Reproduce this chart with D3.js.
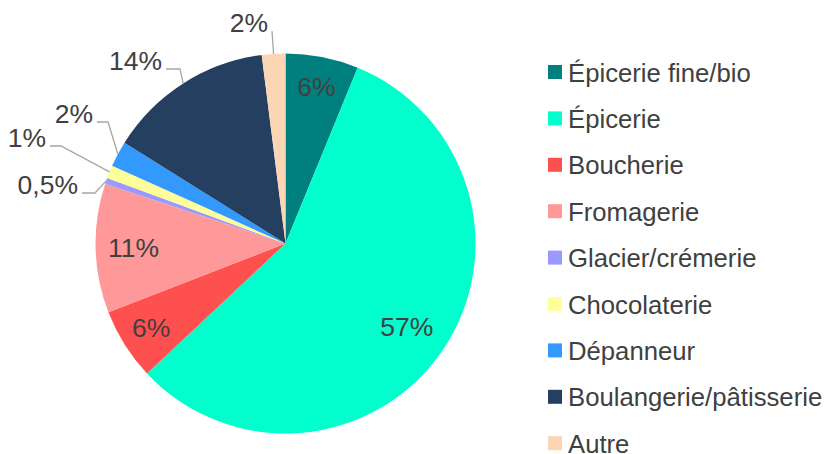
<!DOCTYPE html>
<html>
<head>
<meta charset="utf-8">
<script src="https://cdn.jsdelivr.net/npm/d3@7"></script>
<style>
  html, body { margin: 0; padding: 0; background: #fff; }
  svg { display: block; font-family: "Liberation Sans", Arial, sans-serif; }
</style>
</head>
<body>
<svg id="chart" width="827" height="454"></svg>
<script>
// ---- Data ----
const categories = ["Épicerie fine/bio", "Épicerie", "Boucherie", "Fromagerie", "Glacier/crémerie", "Chocolaterie", "Dépanneur", "Boulangerie/pâtisserie", "Autre"];
const values = [6.2, 56.8, 6.1, 11.0, 0.5, 1.1, 2.2, 14.1, 2.0];
const labels = ["6%", "57%", "6%", "11%", "0,5%", "1%", "2%", "14%", "2%"];

// ---- Styles / layout ----
const colors = ["#007F7F", "#00FFCC", "#FF5050", "#FF9999", "#9999FF", "#FFFF99", "#3399FF", "#243F60", "#FCD5B5"];
const cx = 285.5, cy = 243.5, R = 190;
// inside label radius factors (by slice index)
const insideLayout = { 0: 0.84, 1: 0.775, 2: 0.835, 3: 0.80 };
// outside label elbows relative to pie centre: [elbowDx, elbowDy, horizontal length]
const outsideLayout = {
  4: [-190.5, -50.5, 13],
  5: [-224.5, -97.5, 11],
  6: [-177.5, -121.5, 11],
  7: [-105.5, -174.5, 14],
  8: [-13.5, -212.5, 0]
};

const svg = d3.select("#chart");
const g = svg.append("g").attr("transform", `translate(${cx},${cy})`);

const pie = d3.pie().sort(null).value(d => d.v);
const arcs = pie(categories.map((c, i) => ({ c, v: values[i], i })));
const arc = d3.arc().innerRadius(0).outerRadius(R);
const color = d3.scaleOrdinal().domain(categories).range(colors);

g.selectAll("path.slice")
  .data(arcs)
  .join("path")
  .attr("class", "slice")
  .attr("d", arc)
  .attr("fill", d => color(d.data.c));

const textColor = "#404040";
const labelSize = 26.5;

// inside labels
g.selectAll("text.inlab")
  .data(arcs.filter(d => d.index in insideLayout))
  .join("text")
  .attr("class", "inlab")
  .attr("transform", d => {
    const r = R * insideLayout[d.index];
    const c = d3.arc().innerRadius(r).outerRadius(r).centroid(d);
    return `translate(${c[0]},${c[1]})`;
  })
  .attr("text-anchor", "middle")
  .attr("dy", "0.35em")
  .attr("font-size", labelSize)
  .attr("fill", textColor)
  .text(d => labels[d.index]);

// outside labels with leader lines
const outs = arcs.filter(d => d.index in outsideLayout);
outs.forEach(d => {
  const [ex, ey, hl] = outsideLayout[d.index];
  const a = (d.startAngle + d.endAngle) / 2;
  const p0 = [R * Math.sin(a), -R * Math.cos(a)];
  const pts = [p0, [ex, ey], [ex - hl, ey]];
  g.append("path")
    .attr("d", d3.line()(pts))
    .attr("fill", "none")
    .attr("stroke", "#A6A6A6")
    .attr("stroke-width", 1.3);
  g.append("text")
    .attr("x", ex - hl - 4)
    .attr("y", ey + 1)
    .attr("text-anchor", "end")
    .attr("font-size", labelSize)
    .attr("fill", textColor)
    .text(labels[d.index]);
});

// legend
const legend = svg.append("g").attr("transform", "translate(548,72)");
const step = 46.4;
const items = legend.selectAll("g.item")
  .data(categories)
  .join("g")
  .attr("class", "item")
  .attr("transform", (d, i) => `translate(0,${i * step})`);
items.append("rect")
  .attr("x", 0).attr("y", -7)
  .attr("width", 14).attr("height", 14)
  .attr("fill", d => color(d));
items.append("text")
  .attr("x", 20).attr("y", 9.5)
  .attr("font-size", 25.7)
  .attr("fill", textColor)
  .text(d => d);
</script>
</body>
</html>
